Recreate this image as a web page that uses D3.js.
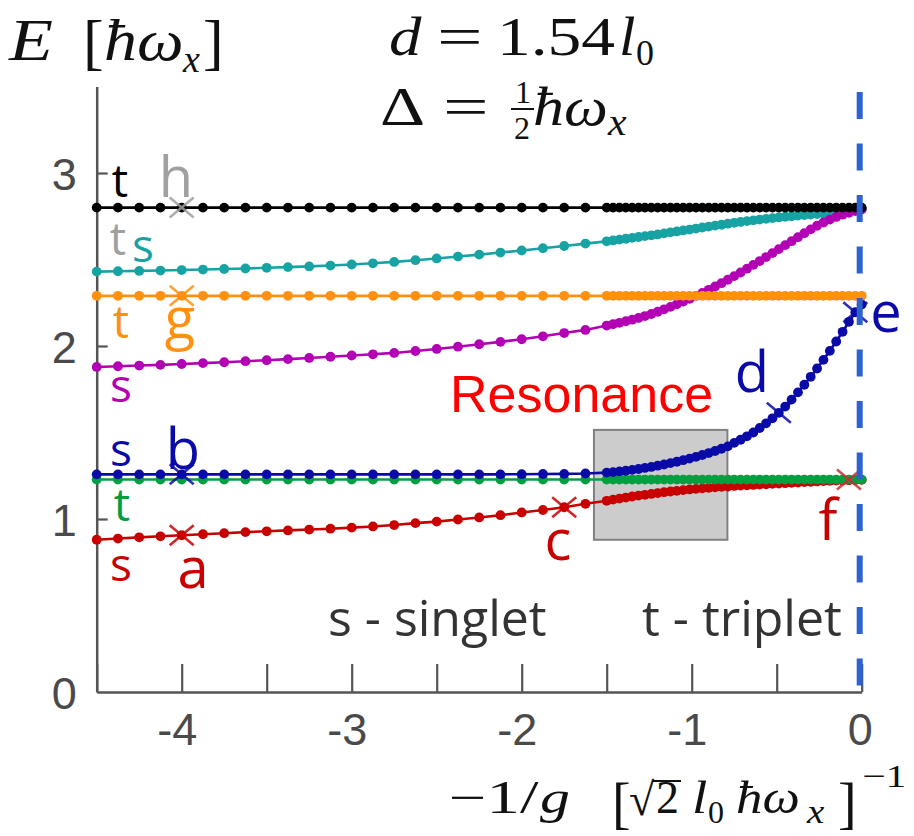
<!DOCTYPE html>
<html>
<head>
<meta charset="utf-8">
<script src="https://cdn.jsdelivr.net/npm/d3@7"></script>
<style>
  body { margin: 0; background: #fff; }
  svg { display: block; }
</style>
</head>
<body>
<svg id="chart" width="914" height="836"></svg>
<script>
// Coupling strength axis: coarse sampling far from resonance, fine sampling near it
const xSparse = [-4.5, -4.375, -4.25, -4.125, -4, -3.875, -3.75, -3.625, -3.5, -3.375, -3.25, -3.125,
                 -3, -2.875, -2.75, -2.625, -2.5, -2.375, -2.25, -2.125, -2, -1.875, -1.75, -1.625];
const xDense = [-1.5, -1.4625, -1.425, -1.3875, -1.35, -1.3125, -1.275, -1.2375, -1.2, -1.1625,
                -1.125, -1.0875, -1.05, -1.0125, -0.975, -0.9375, -0.9, -0.8625, -0.825, -0.7875,
                -0.75, -0.7125, -0.675, -0.6375, -0.6, -0.5625, -0.525, -0.4875, -0.45, -0.4125,
                -0.375, -0.3375, -0.3, -0.2625, -0.225, -0.1875, -0.15, -0.1125, -0.075, -0.0375, 0];

// Energy levels E [ħω_x]
const redSparse = [0.880, 0.887, 0.894, 0.900, 0.906, 0.912, 0.918, 0.924, 0.929, 0.934, 0.939, 0.944,
                   0.950, 0.957, 0.965, 0.976, 0.985, 0.997, 1.009, 1.022, 1.038, 1.052, 1.068, 1.088];
const redDense = [1.105, 1.112, 1.118, 1.124, 1.130, 1.135, 1.140, 1.145, 1.150, 1.155, 1.159, 1.163,
                  1.167, 1.171, 1.174, 1.177, 1.180, 1.183, 1.186, 1.188, 1.191, 1.193, 1.195, 1.197,
                  1.199, 1.201, 1.203, 1.205, 1.207, 1.209, 1.211, 1.213, 1.215, 1.217, 1.219, 1.221,
                  1.222, 1.223, 1.224, 1.225, 1.226];

const greenSparse = [1.228, 1.228, 1.228, 1.228, 1.228, 1.228, 1.228, 1.228, 1.228, 1.228, 1.228, 1.228,
                     1.228, 1.228, 1.228, 1.228, 1.228, 1.228, 1.228, 1.228, 1.228, 1.228, 1.228, 1.228];
const greenDense = [1.228, 1.228, 1.228, 1.228, 1.228, 1.228, 1.228, 1.228, 1.228, 1.228, 1.228, 1.228,
                    1.228, 1.228, 1.228, 1.228, 1.228, 1.228, 1.228, 1.228, 1.228, 1.228, 1.228, 1.228,
                    1.228, 1.228, 1.228, 1.228, 1.228, 1.228, 1.228, 1.228, 1.228, 1.228, 1.228, 1.228,
                    1.228, 1.228, 1.228, 1.228, 1.228];

const blueSparse = [1.258, 1.258, 1.258, 1.258, 1.258, 1.258, 1.258, 1.258, 1.258, 1.258, 1.258, 1.258,
                    1.258, 1.258, 1.258, 1.258, 1.258, 1.258, 1.258, 1.258, 1.259, 1.260, 1.261, 1.263];
const blueDense = [1.268, 1.271, 1.275, 1.279, 1.284, 1.289, 1.295, 1.301, 1.308, 1.315, 1.323, 1.331,
                   1.340, 1.349, 1.359, 1.370, 1.381, 1.393, 1.406, 1.420, 1.440, 1.458, 1.478, 1.500,
                   1.526, 1.553, 1.582, 1.614, 1.650, 1.690, 1.732, 1.776, 1.822, 1.870, 1.920, 1.972,
                   2.026, 2.082, 2.140, 2.195, 2.240];

const magentaSparse = [1.879, 1.883, 1.887, 1.891, 1.896, 1.901, 1.906, 1.912, 1.918, 1.924, 1.931, 1.938,
                       1.945, 1.952, 1.960, 1.971, 1.983, 1.996, 2.010, 2.024, 2.039, 2.056, 2.075, 2.093];
const magentaDense = [2.118, 2.126, 2.134, 2.143, 2.152, 2.162, 2.173, 2.185, 2.198, 2.212, 2.226, 2.241,
                      2.257, 2.273, 2.290, 2.307, 2.325, 2.344, 2.363, 2.383, 2.404, 2.425, 2.447, 2.469,
                      2.491, 2.514, 2.537, 2.560, 2.583, 2.606, 2.629, 2.652, 2.674, 2.695, 2.714, 2.731,
                      2.746, 2.759, 2.770, 2.780, 2.790];

const orangeSparse = [2.29, 2.29, 2.29, 2.29, 2.29, 2.29, 2.29, 2.29, 2.29, 2.29, 2.29, 2.29,
                      2.29, 2.29, 2.29, 2.29, 2.29, 2.29, 2.29, 2.29, 2.29, 2.29, 2.29, 2.29];
const orangeDense = [2.29, 2.29, 2.29, 2.29, 2.29, 2.29, 2.29, 2.29, 2.29, 2.29, 2.29, 2.29,
                     2.29, 2.29, 2.29, 2.29, 2.29, 2.29, 2.29, 2.29, 2.29, 2.29, 2.29, 2.29,
                     2.29, 2.29, 2.29, 2.29, 2.29, 2.29, 2.29, 2.29, 2.29, 2.29, 2.29, 2.29,
                     2.29, 2.29, 2.29, 2.29, 2.29];

const cyanSparse = [2.430, 2.432, 2.434, 2.436, 2.439, 2.442, 2.445, 2.448, 2.452, 2.456, 2.460, 2.465,
                    2.471, 2.478, 2.486, 2.496, 2.506, 2.517, 2.528, 2.540, 2.552, 2.565, 2.578, 2.592];
const cyanDense = [2.605, 2.610, 2.615, 2.620, 2.625, 2.630, 2.635, 2.640, 2.645, 2.651, 2.657, 2.662,
                   2.668, 2.673, 2.679, 2.685, 2.690, 2.696, 2.701, 2.707, 2.712, 2.717, 2.722, 2.726,
                   2.731, 2.735, 2.739, 2.743, 2.747, 2.750, 2.754, 2.757, 2.760, 2.763, 2.766, 2.769,
                   2.772, 2.776, 2.780, 2.785, 2.790];

const blackSparse = [2.80, 2.80, 2.80, 2.80, 2.80, 2.80, 2.80, 2.80, 2.80, 2.80, 2.80, 2.80,
                     2.80, 2.80, 2.80, 2.80, 2.80, 2.80, 2.80, 2.80, 2.80, 2.80, 2.80, 2.80];
const blackDense = [2.80, 2.80, 2.80, 2.80, 2.80, 2.80, 2.80, 2.80, 2.80, 2.80, 2.80, 2.80,
                    2.80, 2.80, 2.80, 2.80, 2.80, 2.80, 2.80, 2.80, 2.80, 2.80, 2.80, 2.80,
                    2.80, 2.80, 2.80, 2.80, 2.80, 2.80, 2.80, 2.80, 2.80, 2.80, 2.80, 2.80,
                    2.80, 2.80, 2.80, 2.80, 2.80];

// Marked states: label, series, x position
const markerLabels = ["h", "g", "b", "a", "c", "d", "e", "f"];
const markerSeries = ["gray", "orange", "blue", "red", "red", "blue", "blue", "green"];
const markerX = [-4, -4, -4, -4, -1.75, -0.4875, -0.0375, -0.075];

const xTicks = [-4.5, -4, -3.5, -3, -2.5, -2, -1.5, -1, -0.5, 0];
const yTicks = [0, 1, 2, 3];

// Shaded resonance window [x0, x1] × [E0, E1]
const boxX = [-1.575, -0.79];
const boxE = [0.88, 1.515];

const svg = d3.select("#chart");
const x = d3.scaleLinear().domain([-4.5, 0]).range([96.7, 861.7]);
const y = d3.scaleLinear().domain([0, 3.5]).range([692, 86.5]);

const series = [
  { key: "red",     color: "#c80000", s: redSparse,     d: redDense },
  { key: "green",   color: "#00a040", s: greenSparse,   d: greenDense },
  { key: "blue",    color: "#0a0aa8", s: blueSparse,    d: blueDense },
  { key: "cyan",    color: "#17a3a3", s: cyanSparse,    d: cyanDense },
  { key: "magenta", color: "#b400b4", s: magentaSparse, d: magentaDense },
  { key: "orange",  color: "#ff9010", s: orangeSparse,  d: orangeDense },
  { key: "black",   color: "#000000", s: blackSparse,   d: blackDense }
];
const xAll = xSparse.concat(xDense);
series.forEach(sr => { sr.pts = xAll.map((xv, i) => [xv, sr.s.concat(sr.d)[i]]); });
const byKey = {};
series.forEach(sr => byKey[sr.key] = sr);
byKey.gray = { color: "#a0a0a0", pts: byKey.black.pts };

// Resonance box behind the curves
svg.append("rect")
  .attr("x", x(boxX[0])).attr("y", y(boxE[1]))
  .attr("width", x(boxX[1]) - x(boxX[0]))
  .attr("height", y(boxE[0]) - y(boxE[1]))
  .attr("fill", "#cccccc").attr("stroke", "#808080").attr("stroke-width", 2);

// Axes
const axisColor = "#555";
const gx = svg.append("g").attr("transform", "translate(0,692)")
  .call(d3.axisBottom(x).tickValues(xTicks).tickSize(-28).tickSizeOuter(0)
    .tickFormat(d => Number.isInteger(d) ? String(d) : ""));
const gy = svg.append("g").attr("transform", "translate(96.7,0)")
  .call(d3.axisLeft(y).tickValues(yTicks).tickSize(-11).tickSizeOuter(0).tickPadding(20)
    .tickFormat(d => String(d)));
[gx, gy].forEach(g => {
  g.select(".domain").attr("stroke", axisColor).attr("stroke-width", 2.5);
  g.selectAll(".tick line").attr("stroke", axisColor).attr("stroke-width", 2.2);
  g.selectAll(".tick text").attr("fill", "#4a4a4a")
    .style("font-family", "'Liberation Sans', Arial, sans-serif").style("font-size", "45px");
});
gx.selectAll(".tick text").attr("dy", "1.1em").attr("dx", d => d < 0 ? -5 : -2);
gy.selectAll(".tick text").attr("dy", "0.36em");
gy.selectAll(".tick").filter(d => d === 0).select("line").remove();

// Curves: thin line plus dots
const line = d3.line().x(d => x(d[0])).y(d => y(d[1]));
series.forEach(sr => {
  const g = svg.append("g");
  g.append("path").datum(sr.pts).attr("d", line)
    .attr("fill", "none").attr("stroke", sr.color).attr("stroke-width", 2.6);
  g.selectAll("circle").data(sr.pts).join("circle")
    .attr("cx", d => x(d[0])).attr("cy", d => y(d[1])).attr("r", 4.9)
    .attr("fill", sr.color);
});

// Crosses at the marked states
markerLabels.forEach((lab, i) => {
  const sr = byKey[markerSeries[i]];
  const idx = xAll.indexOf(markerX[i]);
  const cx = x(markerX[i]), cy = y(sr.pts[idx][1]);
  const col = markerSeries[i] === "green" ? "#c83030" : sr.color;
  svg.append("path")
    .attr("d", `M${cx - 12},${cy - 10}L${cx + 12},${cy + 10}M${cx - 12},${cy + 10}L${cx + 12},${cy - 10}`)
    .attr("stroke", col).attr("stroke-width", 2.6).attr("fill", "none").attr("opacity", 0.85);
});

// Dashed line at unitary limit
svg.append("line")
  .attr("x1", x(0) - 2).attr("x2", x(0) - 2).attr("y1", 92).attr("y2", 692)
  .attr("stroke", "#2e62d0").attr("stroke-width", 6).attr("stroke-dasharray", "27 24.5");

// Spin labels (s/t) and state letters
const sans = "'Open Sans', 'Noto Sans', sans-serif";
const spinLabels = [
  ["t", 120, 197, "#000"], ["t", 118, 255, "#a0a0a0"], ["s", 143, 262, "#17a3a3"],
  ["t", 121, 338, "#ff9010"], ["s", 121, 402, "#b400b4"], ["s", 121, 466, "#0a0aa8"],
  ["t", 122, 521, "#00a040"], ["s", 121, 581, "#c80000"]
];
spinLabels.forEach(([t, cx, by, c]) => {
  svg.append("text").attr("x", cx).attr("y", by).attr("text-anchor", "middle")
    .attr("fill", c).style("font-family", sans).style("font-size", "46px").text(t);
});
const letterPos = [
  [176, 197, "#a0a0a0"], [180, 338, "#ff9010"], [183, 469, "#0a0aa8"], [193, 588, "#c80000"],
  [558, 560, "#c80000"], [752, 392, "#0a0aa8"], [886, 332, "#0a0aa8"], [828, 540, "#c80000"]
];
markerLabels.forEach((lab, i) => {
  const [cx, by, c] = letterPos[i];
  svg.append("text").attr("x", cx).attr("y", by).attr("text-anchor", "middle")
    .attr("fill", c).style("font-family", sans).style("font-size", "56px").text(lab);
});

svg.append("text").attr("x", 450).attr("y", 412).attr("fill", "#ff0000")
  .style("font-family", "'Liberation Sans', Arial, sans-serif").style("font-size", "52px").text("Resonance");
svg.append("text").attr("x", 328).attr("y", 636).attr("fill", "#333")
  .style("font-family", sans).style("font-size", "50px").text("s - singlet");
svg.append("text").attr("x", 642).attr("y", 636).attr("fill", "#333")
  .style("font-family", sans).style("font-size", "50px").text("t - triplet");

// Math annotations (serif glyphs widened to a Computer Modern-like set width)
const serif = "'Liberation Serif', 'DejaVu Serif', serif";
function mtext(str, px, py, size, italic, sx) {
  return svg.append("text")
    .attr("transform", `translate(${px},${py}) scale(${sx || 1},1)`)
    .attr("fill", "#111")
    .style("font-family", serif).style("font-size", size + "px")
    .style("font-style", italic ? "italic" : "normal").text(str);
}
// y-axis quantity
mtext("E", 9, 60, 60, true, 1.2);
mtext("[", 83, 63, 62, false);
mtext("ħω", 104, 60, 60, true, 1.1);
mtext("x", 183, 72, 38, true);
mtext("]", 203, 63, 62, false);
// parameters
mtext("d", 389, 55, 54, true, 1.2);
mtext("=", 437, 55, 54, false, 1.5);
mtext("1.54", 497, 55, 54, false, 1.25);
mtext("l", 619, 55, 54, true, 1.1);
mtext("0", 636, 65, 36, false);
mtext("Δ", 380, 125, 54, false, 1.3);
mtext("=", 443, 125, 54, false, 1.5);
mtext("1", 515, 103, 32, false);
svg.append("line").attr("x1", 511).attr("x2", 534).attr("y1", 109).attr("y2", 109)
  .attr("stroke", "#111").attr("stroke-width", 2);
mtext("2", 514, 139, 32, false);
mtext("ħω", 533, 125, 54, true, 1.15);
mtext("x", 608, 135, 38, true, 1.1);
// x-axis quantity
mtext("−1/", 449, 813, 46, false, 1.45);
mtext("g", 540, 813, 46, true, 1.3);
mtext("[", 612, 822, 56, false);
mtext("√", 629, 815, 46, false);
svg.append("line").attr("x1", 653).attr("x2", 681).attr("y1", 781).attr("y2", 781)
  .attr("stroke", "#111").attr("stroke-width", 2);
mtext("2", 656, 813, 46, false);
mtext("l", 692, 813, 46, true, 1.2);
mtext("0", 708, 823, 32, false);
mtext("ħω", 736, 813, 46, true, 1.15);
mtext("x", 807, 823, 34, true, 1.15);
mtext("]", 838, 822, 56, false);
mtext("−1", 862, 787, 32, false, 1.3);
</script>
</body>
</html>
